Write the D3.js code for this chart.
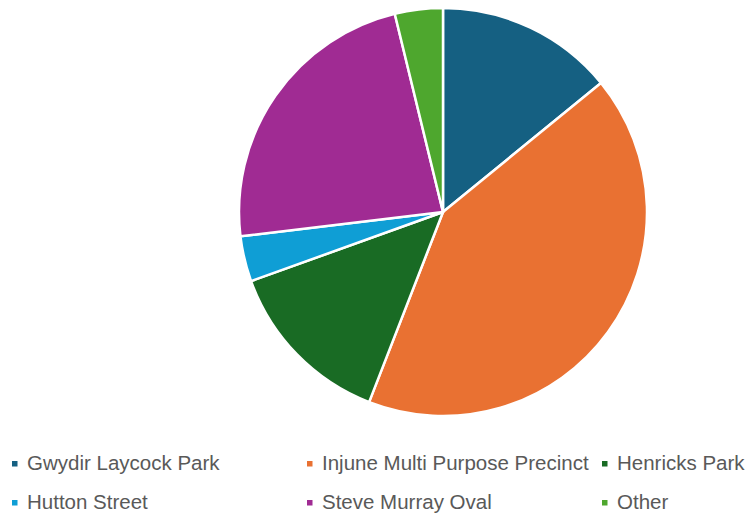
<!DOCTYPE html>
<html>
<head>
<meta charset="utf-8">
<script src="https://cdn.jsdelivr.net/npm/d3@7"></script>
<style>
  html, body { margin: 0; padding: 0; background: #ffffff; }
  svg { display: block; }
</style>
</head>
<body>
<svg id="chart" width="747" height="513"></svg>
<script>
const categories = ["Gwydir Laycock Park", "Injune Multi Purpose Precinct", "Henricks Park", "Hutton Street", "Steve Murray Oval", "Other"];
const values = [14.1, 41.8, 13.6, 3.6, 23.1, 3.8];
const colors = ["#156082", "#E97132", "#196B24", "#0F9ED5", "#A02B93", "#4EA72E"];

const svg = d3.select("#chart");
const cx = 443, cy = 212, r = 204;

const data = categories.map((c, i) => ({ name: c, value: values[i], color: colors[i] }));
const pie = d3.pie().value(d => d.value).sort(null);
const arc = d3.arc().innerRadius(0).outerRadius(r);

svg.append("g")
  .attr("transform", `translate(${cx},${cy})`)
  .selectAll("path")
  .data(pie(data))
  .join("path")
  .attr("d", arc)
  .attr("fill", d => d.data.color)
  .attr("stroke", "#ffffff")
  .attr("stroke-width", 2.5)
  .attr("stroke-linejoin", "round");

// legend: 3 columns x 2 rows
const colX = d3.scaleOrdinal().domain([0, 1, 2]).range([12, 307, 602]);
const rowY = d3.scaleOrdinal().domain([0, 1]).range([470, 509]);

const leg = svg.append("g")
  .selectAll("g")
  .data(data)
  .join("g")
  .attr("transform", (d, i) => `translate(${colX(i % 3)},${rowY(Math.floor(i / 3))})`);

leg.append("rect")
  .attr("x", 0)
  .attr("y", -9)
  .attr("width", 5.5)
  .attr("height", 5.5)
  .attr("fill", d => d.color);

leg.append("text")
  .attr("x", 15)
  .attr("y", 0)
  .attr("font-family", "'Liberation Sans', Arial, sans-serif")
  .attr("font-size", 20.5)
  .attr("fill", "#595959")
  .text(d => d.name);
</script>
</body>
</html>
